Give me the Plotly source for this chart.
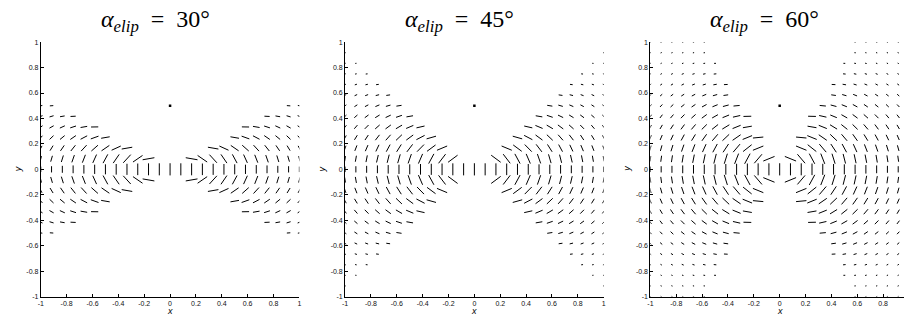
import math
import plotly.graph_objects as go

# Sample coordinates of one quadrant (used for both |x| and |y|); the field is mirrored into all four quadrants
quad_coords = [0.0, 0.0833, 0.1667, 0.25, 0.3333, 0.4167, 0.5, 0.5833, 0.6667, 0.75, 0.8333, 0.9167, 1.0]

# Director tilt away from vertical (degrees). Outer index: |x| sample, inner index: |y| sample inside the wedge.
tilt_30 = [
    [0],
    [0],
    [0, 80],
    [0, 55],
    [0, 42, 80],
    [0, 34, 65],
    [0, 28, 55, 80],
    [0, 24, 48, 70, 89],
    [0, 21, 42, 62, 80],
    [0, 19, 38, 55, 72, 87],
    [0, 17, 34, 50, 65, 80],
    [0, 16, 31, 46, 60, 73, 86],
    [0, 14, 28, 42, 55, 68, 80],
]
tilt_45 = [
    [0],
    [0],
    [0, 53],
    [0, 37, 67],
    [0, 28, 53, 74],
    [0, 23, 44, 62, 77],
    [0, 19, 37, 53, 67, 80],
    [0, 16, 32, 46, 59, 71, 81],
    [0, 14, 28, 41, 53, 64, 74, 82],
    [0, 13, 25, 37, 48, 58, 67, 76, 83],
    [0, 11, 23, 33, 44, 53, 62, 70, 77, 84],
    [0, 10, 21, 31, 40, 49, 57, 65, 72, 79, 85],
    [0, 10, 19, 28, 37, 45, 53, 61, 67, 74, 80, 85],
]
tilt_60 = [
    [0],
    [0, 67.5],
    [0, 40, 67.5, 84.5],
    [0, 28, 51, 67.5, 80, 88.6],
    [0, 21, 40, 55, 67.5, 77, 84.5],
    [0, 17, 33, 46, 58, 67.5, 75, 82, 87],
    [0, 14, 28, 40, 51, 60, 67.5, 74, 80, 84.5, 88.6],
    [0, 12, 24, 35, 45, 53, 61, 67.5, 73, 78, 82.5, 86, 89.6],
    [0, 11, 21, 31, 40, 48, 55, 62, 67.5, 72.6, 77, 81, 84.5],
    [0, 9.5, 19, 28, 36, 44, 51, 57, 62, 67.5, 72, 76, 80],
    [0, 8.6, 17, 25, 33, 40, 46, 52.5, 58, 63, 67.5, 71.6, 75],
    [0, 7.8, 15.5, 23, 30, 36.7, 43, 48.7, 54, 59, 63.4, 67.5, 71],
    [0, 7, 14, 21, 27.6, 34, 40, 45, 50.5, 55, 60, 64, 67.5],
]

# Order magnitude at each quadrant sample (sets the drawn segment length)
magnitude = [
    [1.00],
    [0.99, 0.98],
    [0.98, 0.96, 0.91, 0.84],
    [0.95, 0.94, 0.89, 0.82, 0.73, 0.63],
    [0.91, 0.90, 0.86, 0.79, 0.70, 0.60, 0.50],
    [0.87, 0.86, 0.81, 0.75, 0.67, 0.57, 0.48, 0.38, 0.30],
    [0.82, 0.81, 0.77, 0.70, 0.63, 0.54, 0.45, 0.36, 0.28, 0.21, 0.15],
    [0.76, 0.75, 0.71, 0.66, 0.58, 0.50, 0.42, 0.34, 0.26, 0.20, 0.14, 0.11, 0.10],
    [0.70, 0.69, 0.66, 0.60, 0.54, 0.46, 0.38, 0.31, 0.24, 0.18, 0.13, 0.10, 0.10],
    [0.64, 0.63, 0.60, 0.55, 0.49, 0.42, 0.35, 0.28, 0.22, 0.17, 0.12, 0.10, 0.10],
    [0.57, 0.56, 0.54, 0.49, 0.44, 0.38, 0.31, 0.25, 0.20, 0.15, 0.11, 0.10, 0.10],
    [0.51, 0.50, 0.48, 0.44, 0.39, 0.34, 0.28, 0.23, 0.18, 0.13, 0.10, 0.10, 0.10],
    [0.45, 0.44, 0.42, 0.39, 0.34, 0.30, 0.25, 0.20, 0.15, 0.12, 0.10, 0.10, 0.10],
]

panel_angles = [30, 45, 60]
panel_tilts = [tilt_30, tilt_45, tilt_60]

# Reference marker shown above the defect
ref_x = [0.0]
ref_y = [0.5]

tick_vals = [-1, -0.8, -0.6, -0.4, -0.2, 0, 0.2, 0.4, 0.6, 0.8, 1]
tick_text = ["-1", "-0.8", "-0.6", "-0.4", "-0.2", "0", "0.2", "0.4", "0.6", "0.8", "1"]

HALF_LEN = 0.048  # half segment length in data units at magnitude 1


def director_segments(tilt):
    xs, ys = [], []
    for k, col in enumerate(tilt):
        for j, t in enumerate(col):
            s = magnitude[k][j] * HALF_LEN
            a = math.radians(t)
            dx, dy = math.sin(a) * s, math.cos(a) * s
            cx, cy = quad_coords[k], quad_coords[j]
            for sx in ((1,) if k == 0 else (-1, 1)):
                for sy in ((1,) if j == 0 else (-1, 1)):
                    ddx = -sx * sy * dx
                    xs += [sx * cx - ddx, sx * cx + ddx, None]
                    ys += [sy * cy - dy, sy * cy + dy, None]
    return xs, ys


W, H = 906, 322
x_px = [(38, 298), (344, 604), (651, 911)]
y_top, y_bot = 39, 299

fig = go.Figure()
axis_font = dict(family="Liberation Sans, Arial, sans-serif", size=7, color="#111")
title_font = dict(family="Liberation Serif, Times New Roman, serif", size=24, color="black")
label_font = dict(family="Liberation Sans, Arial, sans-serif", size=9, color="black")

for i, (alpha, tilt) in enumerate(zip(panel_angles, panel_tilts)):
    n = "" if i == 0 else str(i + 1)
    xs, ys = director_segments(tilt)
    fig.add_trace(go.Scatter(
        x=xs, y=ys, mode="lines",
        line=dict(color="black", width=1.0),
        xaxis="x" + n, yaxis="y" + n, hoverinfo="skip", showlegend=False,
    ))
    fig.add_trace(go.Scatter(
        x=ref_x, y=ref_y, mode="markers",
        marker=dict(symbol="square", size=2.5, color="black", line=dict(width=0)),
        xaxis="x" + n, yaxis="y" + n, hoverinfo="skip", showlegend=False,
    ))

    left, right = x_px[i]
    dom_right = min(right, W)
    x_hi = -1 + 2 * (dom_right - left) / (right - left)
    common = dict(
        showline=True, linecolor="black", linewidth=1,
        ticks="inside", ticklen=3, tickwidth=1, tickcolor="black",
        showgrid=False, zeroline=False,
        tickvals=tick_vals, ticktext=tick_text, tickfont=axis_font,
    )
    fig.update_layout(**{
        "xaxis" + n: dict(domain=[left / W, dom_right / W], range=[-1, x_hi],
                          anchor="y" + n, **common),
        "yaxis" + n: dict(domain=[1 - y_bot / H, 1 - y_top / H], range=[-1, 1],
                          anchor="x" + n, **common),
    })

    fig.add_annotation(
        x=(left + 115) / W, y=1 - 17 / H, xref="paper", yref="paper", showarrow=False,
        text=f"<i>α</i><sub><i>elip</i></sub>&nbsp; = &nbsp;{alpha}°",
        font=title_font, xanchor="center", yanchor="middle",
    )
    fig.add_annotation(
        x=(left + 130) / W, y=1 - 314 / H, xref="paper", yref="paper", showarrow=False,
        text="<i>x</i>", font=label_font, xanchor="center", yanchor="middle",
    )
    fig.add_annotation(
        x=(left - 23) / W, y=1 - 169 / H, xref="paper", yref="paper", showarrow=False,
        text="<i>y</i>", textangle=-90, font=label_font,
        xanchor="center", yanchor="middle",
    )

fig.update_layout(
    width=W, height=H, margin=dict(l=0, r=0, t=0, b=0),
    paper_bgcolor="white", plot_bgcolor="white",
)

fig.write_html("out.html")
